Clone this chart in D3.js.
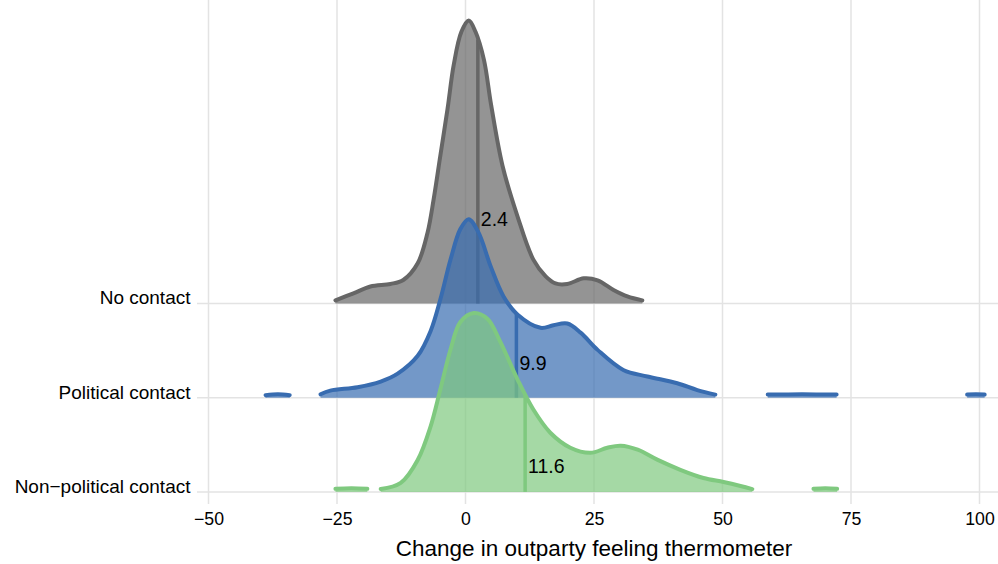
<!DOCTYPE html>
<html>
<head>
<meta charset="utf-8">
<script src="https://cdn.jsdelivr.net/npm/d3@7"></script>
<style>
body { margin: 0; background: #fff; }
text { font-family: "Liberation Sans", Arial, sans-serif; }
</style>
</head>
<body>
<script>
// data (density relative to the tallest peak; null = gap)
var categories = ["No contact", "Political contact", "Non-political contact"];
var means = [2.4, 9.9, 11.6];
var meanLabels = ["2.4", "9.9", "11.6"];
var labelHeights = [0.297, 0.122, 0.091];
var xTicks = [-50, -25, 0, 25, 50, 75, 100];

var noContactX = [-25.3, -21.8, -18.5, -14.6, -12.1, -9.3, -7.4, -6.2, -4.9, -3.5, -2.3, -0.8, 0.64, 1.95, 3.6, 5.0, 7.2, 10.1, 13.2, 15.6, 17.5, 19.8, 23.0, 25.7, 28.8, 31.5, 34.4];
var noContactD = [0.011, 0.036, 0.060, 0.069, 0.083, 0.142, 0.249, 0.368, 0.522, 0.687, 0.842, 0.96, 1.0, 0.96, 0.86, 0.70, 0.487, 0.309, 0.155, 0.096, 0.071, 0.069, 0.089, 0.082, 0.048, 0.025, 0.011];

var politicalX = [-38.9, -36.5, -34.2, null, -28.2, -26.3, -21.0, -16.5, -13.2, -9.3, -6.8, -4.9, -2.9, -1.0, 0.6, 2.5, 4.9, 7.4, 10.1, 14.6, 17.1, 19.8, 22.4, 25.7, 30.7, 35.4, 41.2, 45.1, 48.6, null, 58.8, 65.5, 72.2, null, 97.6, 99.3, 101.0];
var politicalD = [0.009, 0.012, 0.009, null, 0.012, 0.025, 0.037, 0.057, 0.085, 0.148, 0.235, 0.347, 0.489, 0.596, 0.631, 0.585, 0.464, 0.358, 0.294, 0.247, 0.256, 0.262, 0.230, 0.169, 0.098, 0.075, 0.051, 0.027, 0.011, null, 0.011, 0.012, 0.011, null, 0.011, 0.012, 0.011];

var nonPoliticalX = [-25.3, -22.2, -19.1, null, -16.5, -12.6, -9.3, -6.8, -4.9, -2.9, -1.0, 1.6, 4.3, 6.8, 10.1, 13.2, 16.5, 20.4, 24.3, 27.6, 30.2, 33.5, 37.4, 41.8, 46.3, 50.2, 53.5, 55.8, null, 67.7, 70.0, 72.3];
var nonPoliticalD = [0.011, 0.013, 0.011, null, 0.010, 0.032, 0.113, 0.231, 0.362, 0.504, 0.600, 0.632, 0.611, 0.529, 0.398, 0.291, 0.209, 0.156, 0.138, 0.156, 0.163, 0.149, 0.113, 0.078, 0.049, 0.035, 0.021, 0.010, null, 0.011, 0.013, 0.011];

var seriesX = [noContactX, politicalX, nonPoliticalX];
var seriesD = [noContactD, politicalD, nonPoliticalD];
var colors = ["#666666", "#386cb0", "#7fc97f"];

var W = 998, H = 564;
var svg = d3.select("body").append("svg").attr("width", W).attr("height", H);

var x = d3.scaleLinear().domain([-50, 100]).range([208.5, 979.5]);
var y = d3.scalePoint().domain(categories).range([303.5, 491.9]);
var h = d3.scaleLinear().domain([0, 1]).range([0, 283]);

// grid
svg.append("g").selectAll("line").data(xTicks).enter().append("line")
  .attr("x1", function(d) { return x(d); }).attr("x2", function(d) { return x(d); })
  .attr("y1", 0).attr("y2", 504)
  .attr("stroke", "#e3e3e3").attr("stroke-width", 1.5);
svg.append("g").selectAll("line").data(categories).enter().append("line")
  .attr("x1", 197).attr("x2", W)
  .attr("y1", function(d) { return y(d); }).attr("y2", function(d) { return y(d); })
  .attr("stroke", "#e3e3e3").attr("stroke-width", 1.5);

function interp(xs, ds, v) {
  for (var i = 0; i < xs.length - 1; i++) {
    if (xs[i] != null && xs[i + 1] != null && v >= xs[i] && v <= xs[i + 1]) {
      var t = (v - xs[i]) / (xs[i + 1] - xs[i]);
      return ds[i] + t * (ds[i + 1] - ds[i]);
    }
  }
  return 0;
}

categories.forEach(function(cat, i) {
  var base = y(cat);
  var pts = seriesX[i].map(function(v, j) { return {x: v, d: seriesD[i][j]}; });
  var area = d3.area()
    .defined(function(d) { return d.d != null; })
    .x(function(d) { return x(d.x); })
    .y0(base)
    .y1(function(d) { return base - h(d.d); })
    .curve(d3.curveCatmullRom.alpha(0.5));
  var line = area.lineY1();

  var g = svg.append("g");
  g.append("path").datum(pts).attr("d", area)
    .attr("fill", colors[i]).attr("fill-opacity", 0.7);

  var top = interp(seriesX[i], seriesD[i], means[i]);
  g.append("line")
    .attr("x1", x(means[i])).attr("x2", x(means[i]))
    .attr("y1", base).attr("y2", base - h(top))
    .attr("stroke", colors[i]).attr("stroke-width", 3.5);

  g.append("path").datum(pts).attr("d", line)
    .attr("fill", "none").attr("stroke", colors[i]).attr("stroke-width", 4)
    .attr("stroke-linecap", "round").attr("stroke-linejoin", "round");

  g.append("text")
    .attr("x", x(means[i]) + 3)
    .attr("y", base - h(labelHeights[i]))
    .attr("dy", "0.35em")
    .attr("font-size", 19.5).attr("fill", "#000")
    .text(meanLabels[i]);
});

// axis labels
svg.append("g").selectAll("text").data(categories).enter().append("text")
  .attr("x", 190.5).attr("y", function(d) { return y(d) + 0.8; })
  .attr("text-anchor", "end").attr("font-size", 19).attr("fill", "#000")
  .text(function(d) { return d.replace("-", "\u2212"); });

svg.append("g").attr("transform", "translate(0,505)")
  .call(d3.axisBottom(x).tickValues(xTicks).tickSize(0).tickPadding(7)
    .tickFormat(function(d) { return d < 0 ? "\u2212" + Math.abs(d) : d; }))
  .call(function(g) { g.select(".domain").remove(); })
  .selectAll("text").attr("font-size", 17.7).attr("fill", "#000")
  .attr("font-family", "Liberation Sans, Arial, sans-serif");

svg.append("text")
  .attr("x", 594).attr("y", 556)
  .attr("text-anchor", "middle").attr("font-size", 22.5).attr("fill", "#000")
  .text("Change in outparty feeling thermometer");
</script>
</body>
</html>
